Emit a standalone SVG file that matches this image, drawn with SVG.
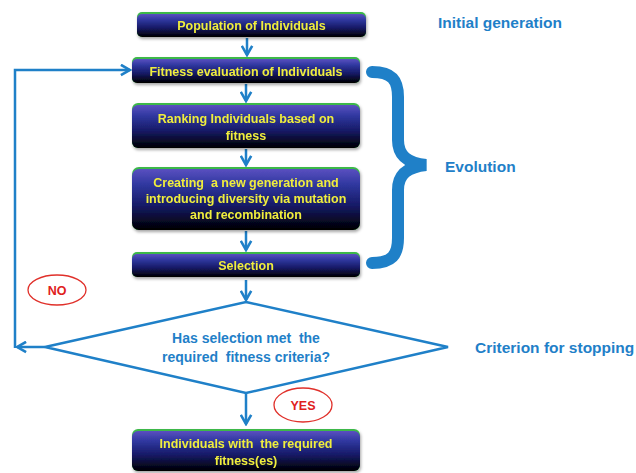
<svg xmlns="http://www.w3.org/2000/svg" width="636" height="473" viewBox="0 0 636 473">
<defs>
<linearGradient id="boxg" x1="0" y1="0" x2="0" y2="1">
<stop offset="0" stop-color="#5a50c0"/>
<stop offset="0.25" stop-color="#3038a0"/>
<stop offset="0.6" stop-color="#161a66"/>
<stop offset="0.85" stop-color="#070824"/>
<stop offset="1" stop-color="#000000"/>
</linearGradient>
<filter id="sh" x="-5%" y="-10%" width="110%" height="130%">
<feDropShadow dx="1" dy="2" stdDeviation="1.5" flood-color="#000" flood-opacity="0.35"/>
</filter>
<marker id="arr" viewBox="0 0 10 10" refX="8.5" refY="5" markerWidth="13" markerHeight="13" markerUnits="userSpaceOnUse" orient="auto">
<path d="M1.5,1 L8.5,5 L1.5,9" fill="none" stroke="#1f80c8" stroke-width="2" stroke-linejoin="miter"/>
</marker>
</defs>
<style>
text{white-space:pre}
.green{fill:#3cb84a}
.box{fill:url(#boxg)}
.bt{font-family:"Liberation Sans",Arial,sans-serif;font-weight:bold;font-size:12.5px;fill:#f0ee3c;text-anchor:middle}
.lbl{font-family:"Liberation Sans",Arial,sans-serif;font-weight:bold;font-size:15.5px;fill:#1f80c8}
.dt{font-family:"Liberation Sans",Arial,sans-serif;font-weight:bold;font-size:14px;fill:#1f80c8;text-anchor:middle}
.con{fill:none;stroke:#1f80c8;stroke-width:2.5}
.ell{fill:#fff;stroke:#e0302a;stroke-width:1.3}
.rt{font-family:"Liberation Sans",Arial,sans-serif;font-weight:bold;font-size:12.5px;fill:#e0201c;text-anchor:middle}
</style>
<rect width="636" height="473" fill="#ffffff"/>

<g id="connectors">
<line class="con" x1="247" y1="38" x2="247" y2="55" marker-end="url(#arr)"/>
<line class="con" x1="246" y1="84" x2="246" y2="101" marker-end="url(#arr)"/>
<line class="con" x1="246" y1="149" x2="246" y2="165" marker-end="url(#arr)"/>
<line class="con" x1="246" y1="231" x2="246" y2="250" marker-end="url(#arr)"/>
<line class="con" x1="246" y1="280" x2="246" y2="300" marker-end="url(#arr)"/>
<line class="con" x1="246" y1="393" x2="246" y2="424" marker-end="url(#arr)"/>
<polyline class="con" points="45,347 17,347" marker-end="url(#arr)"/>
<polyline class="con" points="15,348 15,70 130,70" marker-end="url(#arr)"/>
<path d="M372 72 C392 72 398 80 398 97 L398 140 C398 156 408 163 426 165 C408 167 398 174 398 190 L398 238 C398 255 392 263 372 263" fill="none" stroke="#1f80c8" stroke-width="12" stroke-linecap="round"/>
</g>

<g id="n1" filter="url(#sh)">
<rect class="green" x="137" y="12" width="229" height="25" rx="5"/>
<rect class="box" x="137" y="14" width="229" height="23" rx="5"/>
<text class="bt" x="251.5" y="29.5">Population of Individuals</text>
</g>

<g id="n2" filter="url(#sh)">
<rect class="green" x="132" y="57" width="228" height="26" rx="5"/>
<rect class="box" x="132" y="59" width="228" height="24" rx="5"/>
<text class="bt" x="246" y="75.5">Fitness evaluation of Individuals</text>
</g>

<g id="n3" filter="url(#sh)">
<rect class="green" x="132" y="103" width="228" height="45" rx="6"/>
<rect class="box" x="132" y="105" width="228" height="43" rx="6"/>
<text class="bt" x="246" y="122.5">Ranking Individuals based on</text>
<text class="bt" x="246" y="139.5">fitness</text>
</g>

<g id="n4" filter="url(#sh)">
<rect class="green" x="132" y="167" width="228" height="63" rx="7"/>
<rect class="box" x="132" y="169" width="228" height="61" rx="7"/>
<text class="bt" x="246" y="186.5">Creating  a new generation and</text>
<text class="bt" x="246" y="202.5">introducing diversity via mutation</text>
<text class="bt" x="246" y="218.5">and recombination</text>
</g>

<g id="n5" filter="url(#sh)">
<rect class="green" x="132" y="252" width="228" height="25" rx="5"/>
<rect class="box" x="132" y="254" width="228" height="23" rx="5"/>
<text class="bt" x="246" y="269.5">Selection</text>
</g>

<g id="decision">
<polygon points="246,302 448,347 246,393 45,347" fill="#ffffff" stroke="#1f80c8" stroke-width="2.5" stroke-linejoin="miter"/>
<text class="dt" x="246" y="343">Has selection met  the</text>
<text class="dt" x="246" y="362">required  fitness criteria?</text>
</g>

<g id="n6" filter="url(#sh)">
<rect class="green" x="132" y="429" width="228" height="42" rx="6"/>
<rect class="box" x="132" y="431" width="228" height="40" rx="6"/>
<text class="bt" x="246" y="447.5">Individuals with  the required</text>
<text class="bt" x="246" y="464.5">fitness(es)</text>
</g>

<g id="no">
<ellipse class="ell" cx="57" cy="290" rx="29" ry="15"/>
<text class="rt" x="57" y="294.5">NO</text>
</g>

<g id="yes">
<ellipse class="ell" cx="303" cy="405" rx="29" ry="17"/>
<text class="rt" x="303" y="409.5">YES</text>
</g>

<g id="labels">
<text class="lbl" x="438" y="27.5">Initial generation</text>
<text class="lbl" x="445" y="172">Evolution</text>
<text class="lbl" x="475" y="353">Criterion for stopping</text>
</g>
</svg>
